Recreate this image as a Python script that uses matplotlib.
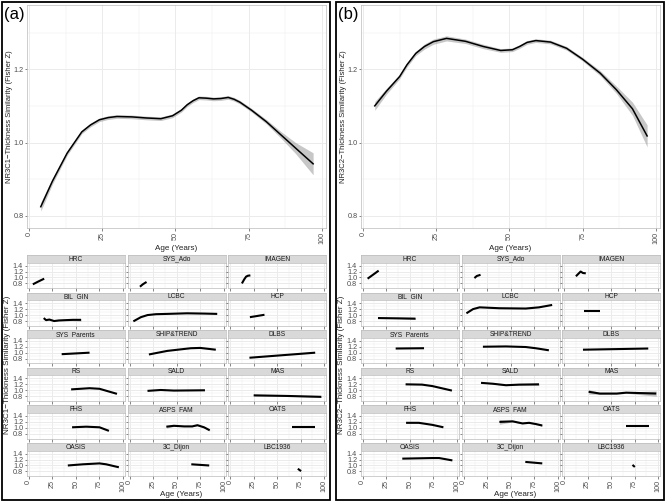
import matplotlib
matplotlib.use("Agg")
import matplotlib.pyplot as plt
from matplotlib.patches import Rectangle

plt.rcParams['font.family'] = ['Liberation Sans', 'DejaVu Sans']

# main smooth curves (age, fitted Fisher Z, half width of the band)
main_age_a = [4, 8, 13, 18, 21, 24, 27, 30, 35, 40, 45, 49, 52, 54, 56, 58, 60.5, 63, 65.5, 68,
              70, 72, 76, 81, 86, 91, 97]
main_fit_a = [0.825, 0.895, 0.971, 1.029, 1.048, 1.062, 1.068, 1.071, 1.070, 1.067, 1.065, 1.073,
              1.088, 1.103, 1.114, 1.122, 1.121, 1.119, 1.120, 1.123, 1.118, 1.110, 1.088, 1.057,
              1.021, 0.985, 0.942]
main_se_a = [0.012, 0.008, 0.006, 0.005, 0.005, 0.005, 0.005, 0.005, 0.005, 0.005, 0.005, 0.005,
             0.005, 0.005, 0.005, 0.005, 0.005, 0.005, 0.005, 0.005, 0.005, 0.005, 0.005, 0.006,
             0.009, 0.015, 0.03]

main_age_b = [4, 8, 12.5, 15, 18, 21, 24, 28.5, 35, 41, 47, 51, 53.5, 56, 59, 64, 69.5, 75, 81,
              86.5, 92, 97]
main_fit_b = [1.100, 1.140, 1.180, 1.212, 1.243, 1.262, 1.275, 1.284, 1.276, 1.262, 1.251, 1.253,
              1.262, 1.273, 1.278, 1.274, 1.257, 1.227, 1.189, 1.144, 1.092, 1.018]
main_se_b = [0.012, 0.008, 0.006, 0.006, 0.006, 0.007, 0.007, 0.007, 0.006, 0.006, 0.005, 0.005,
             0.005, 0.005, 0.005, 0.005, 0.005, 0.005, 0.007, 0.010, 0.018, 0.03]

cohorts = ["HRC", "SYS_Ado", "IMAGEN", "BIL_GIN", "LCBC", "HCP",
           "SYS_Parents", "SHIP&TREND", "DLBS", "RS", "SALD", "MAS",
           "FHS", "ASPS_FAM", "OATS", "OASIS", "3C_Dijon", "LBC1936"]

# per-cohort curves, NR3C1
cohort_age_a = {
    "HRC": [4.5, 10, 16.5], "SYS_Ado": [11, 14, 18], "IMAGEN": [12.5, 15, 17, 19, 21.5],
    "BIL_GIN": [16, 18.5, 22, 27, 32, 39, 47, 55.5], "LCBC": [4, 8, 12, 19, 28, 40, 61, 80, 93],
    "HCP": [21, 36.5], "SYS_Parents": [35, 64.5], "SHIP&TREND": [20.5, 40, 65, 75, 91.5],
    "DLBS": [20.5, 90.5], "RS": [45, 64.5, 75, 93.5], "SALD": [19, 33, 47, 80],
    "MAS": [25, 60, 97], "FHS": [46, 61, 75, 85], "ASPS_FAM": [39, 47, 58, 66.5, 72, 79, 85],
    "OATS": [65.5, 90.5], "OASIS": [41.5, 57.5, 75, 82, 95.5], "3C_Dijon": [65.5, 84.5],
    "LBC1936": [72, 75.5],
}
cohort_fit_a = {
    "HRC": [0.77, 0.86, 0.96], "SYS_Ado": [0.69, 0.77, 0.85], "IMAGEN": [0.80, 0.94, 1.03, 1.06, 1.07],
    "BIL_GIN": [0.90, 0.83, 0.85, 0.80, 0.82, 0.83, 0.84, 0.84],
    "LCBC": [0.79, 0.86, 0.93, 1.00, 1.03, 1.04, 1.06, 1.05, 1.04],
    "HCP": [0.93, 1.01], "SYS_Parents": [0.95, 1.00], "SHIP&TREND": [0.94, 1.06, 1.15, 1.16, 1.10],
    "DLBS": [0.83, 1.00], "RS": [1.03, 1.07, 1.05, 0.88], "SALD": [0.98, 1.01, 0.99, 1.00],
    "MAS": [0.83, 0.81, 0.78], "FHS": [1.02, 1.04, 1.02, 0.90],
    "ASPS_FAM": [1.04, 1.07, 1.05, 1.05, 1.09, 1.02, 0.92],
    "OATS": [1.04, 1.04], "OASIS": [1.00, 1.04, 1.07, 1.04, 0.94], "3C_Dijon": [1.04, 1.00],
    "LBC1936": [0.89, 0.81],
}
cohort_se_a = {
    "BIL_GIN": [0.01, 0.01, 0.01, 0.01, 0.012, 0.018, 0.03, 0.045],
    "MAS": [0.03, 0.01, 0.02],
    "ASPS_FAM": [0.05, 0.02, 0.01, 0.01, 0.015, 0.02, 0.025],
}

# per-cohort curves, NR3C2
cohort_age_b = {
    "HRC": [5.3, 17], "SYS_Ado": [11.5, 14, 18], "IMAGEN": [12.5, 17.5, 20, 23],
    "BIL_GIN": [16.3, 38, 56], "LCBC": [3, 10, 17, 38, 66, 80, 94],
    "HCP": [21, 38.3], "SYS_Parents": [35, 65], "SHIP&TREND": [20.5, 45, 66, 76.5, 90.5],
    "DLBS": [20, 89.5], "RS": [45.5, 63, 74, 94.5], "SALD": [18.5, 31, 45, 59, 80],
    "MAS": [26, 38, 56, 66, 98], "FHS": [46, 59.5, 74, 85.5],
    "ASPS_FAM": [38, 52, 62.5, 69.5, 76.5, 83.5],
    "OATS": [66.3, 90.4], "OASIS": [42, 74, 81, 95], "3C_Dijon": [65.5, 83.5],
    "LBC1936": [72.7, 75.2],
}
cohort_fit_b = {
    "HRC": [0.96, 1.23], "SYS_Ado": [0.98, 1.05, 1.09], "IMAGEN": [1.04, 1.20, 1.15, 1.14],
    "BIL_GIN": [0.90, 0.89, 0.88], "LCBC": [1.06, 1.20, 1.26, 1.23, 1.22, 1.26, 1.34],
    "HCP": [1.13, 1.13], "SYS_Parents": [1.14, 1.15], "SHIP&TREND": [1.20, 1.21, 1.19, 1.15, 1.08],
    "DLBS": [1.10, 1.14], "RS": [1.20, 1.19, 1.14, 0.99], "SALD": [1.25, 1.22, 1.17, 1.19, 1.20],
    "MAS": [0.95, 0.89, 0.89, 0.92, 0.89], "FHS": [1.17, 1.17, 1.10, 1.02],
    "ASPS_FAM": [1.20, 1.22, 1.15, 1.17, 1.13, 1.08],
    "OATS": [1.07, 1.07], "OASIS": [1.23, 1.25, 1.25, 1.17], "3C_Dijon": [1.12, 1.07],
    "LBC1936": [1.02, 0.95],
}
cohort_se_b = {
    "BIL_GIN": [0.01, 0.01, 0.03],
    "SALD": [0.01, 0.01, 0.01, 0.015, 0.04],
    "MAS": [0.08, 0.03, 0.02, 0.02, 0.09],
    "ASPS_FAM": [0.08, 0.02, 0.015, 0.015, 0.02, 0.03],
}

x_ticks = [0, 25, 50, 75, 100]
main_y_ticks = [0.8, 1.0, 1.2]
facet_y_ticks = [0.8, 1.0, 1.2, 1.4]

W, H = 666, 503
fig = plt.figure(figsize=(W / 100, H / 100), dpi=100)

TXT = '#4D4D4D'
GRID = '#EBEBEB'
EDGE = '#BBBBBB'


def px_box(x0, y0, x1, y1):
    return [x0 / W, 1 - y1 / H, (x1 - x0) / W, (y1 - y0) / H]


def style(ax, yt, show_x, show_y, fs):
    ax.set_facecolor('white')
    ax.set_xticks(x_ticks)
    ax.set_xticks([12.5, 37.5, 62.5, 87.5], minor=True)
    ax.set_yticks(yt)
    ax.set_yticks([v + 0.1 for v in yt], minor=True)
    ax.grid(True, which='major', color=GRID, lw=0.7)
    ax.grid(True, which='minor', color=GRID, lw=0.35)
    ax.set_axisbelow(True)
    for s in ax.spines.values():
        s.set_color(EDGE)
        s.set_linewidth(0.5)
    ax.tick_params(which='minor', length=0)
    ax.tick_params(which='major', length=1.8, width=0.5, color='#555555',
                   labelsize=fs, labelcolor=TXT, pad=0.8)
    if show_x:
        ax.set_xticklabels([str(t) for t in x_ticks], rotation=90)
    else:
        ax.set_xticklabels([])
    if show_y:
        ax.set_yticklabels(['%.1f' % t for t in yt])
    else:
        ax.set_yticklabels([])


def draw_panel(xo, tag, name, m_age, m_fit, m_se, c_age, c_fit, c_se):
    fig.add_artist(Rectangle(((xo + 2) / W, 1 - 500 / H), 328 / W, 498 / H,
                             transform=fig.transFigure, fill=False, ec='black', lw=1.3))
    ax = fig.add_axes(px_box(xo + 27, 5, xo + 326, 228))
    lo = [f - s for f, s in zip(m_fit, m_se)]
    hi = [f + s for f, s in zip(m_fit, m_se)]
    ax.fill_between(m_age, lo, hi, color='#999999', alpha=0.55, lw=0)
    ax.plot(m_age, m_fit, color='black', lw=1.1)
    ax.set_xlim(-0.7, 101.4)
    ax.set_ylim(0.767, 1.375)
    style(ax, main_y_ticks, True, True, 5.2)
    ax.set_xlabel('Age (Years)', fontsize=5.8, color='#222222', labelpad=1)
    fig.text((xo + 9.5) / W, 1 - 117 / H, name + '\u2212Thickness Similarity (Fisher Z)',
             rotation=90, ha='center', va='center', fontsize=5.5, color='#222222')
    fig.text((xo + 4) / W, 1 - 15 / H, tag, fontsize=12, ha='left', va='center')

    cols = [(26.7, 125), (127.7, 225.7), (228.3, 326)]
    for i, c in enumerate(cohorts):
        r, k = divmod(i, 3)
        x0, x1 = cols[k]
        top = 255 + r * 37.6
        sax = fig.add_axes(px_box(xo + x0, top, xo + x1, top + 7.6))
        sax.set_facecolor('#D9D9D9')
        sax.set_xticks([])
        sax.set_yticks([])
        for s in sax.spines.values():
            s.set_color(EDGE)
            s.set_linewidth(0.5)
        sax.text(0.5, 0.45, c, transform=sax.transAxes, ha='center', va='center',
                 fontsize=4.8, color='#1A1A1A')
        fax = fig.add_axes(px_box(xo + x0, top + 7.6, xo + x1, top + 33.2))
        ages = c_age[c]
        fit = c_fit[c]
        if c in c_se:
            lo = [f - s for f, s in zip(fit, c_se[c])]
            hi = [f + s for f, s in zip(fit, c_se[c])]
            fax.fill_between(ages, lo, hi, color='#999999', alpha=0.55, lw=0)
        fax.plot(ages, fit, color='black', lw=1.5, solid_capstyle='butt')
        fax.set_xlim(-2, 102)
        fax.set_ylim(0.64, 1.475)
        style(fax, facet_y_ticks, r == 5, k == 0, 5.2)
    fig.text((xo + 181) / W, 1 - 495 / H, 'Age (Years)', ha='center', va='center',
             fontsize=5.8, color='#222222')
    fig.text((xo + 7.5) / W, 1 - 365 / H, name + '\u2212Thickness Similarity (Fisher Z)',
             rotation=90, ha='center', va='center', fontsize=5.8, color='#222222')


draw_panel(0, '(a)', 'NR3C1', main_age_a, main_fit_a, main_se_a,
           cohort_age_a, cohort_fit_a, cohort_se_a)
draw_panel(334, '(b)', 'NR3C2', main_age_b, main_fit_b, main_se_b,
           cohort_age_b, cohort_fit_b, cohort_se_b)

fig.savefig('out.png', dpi=100)
